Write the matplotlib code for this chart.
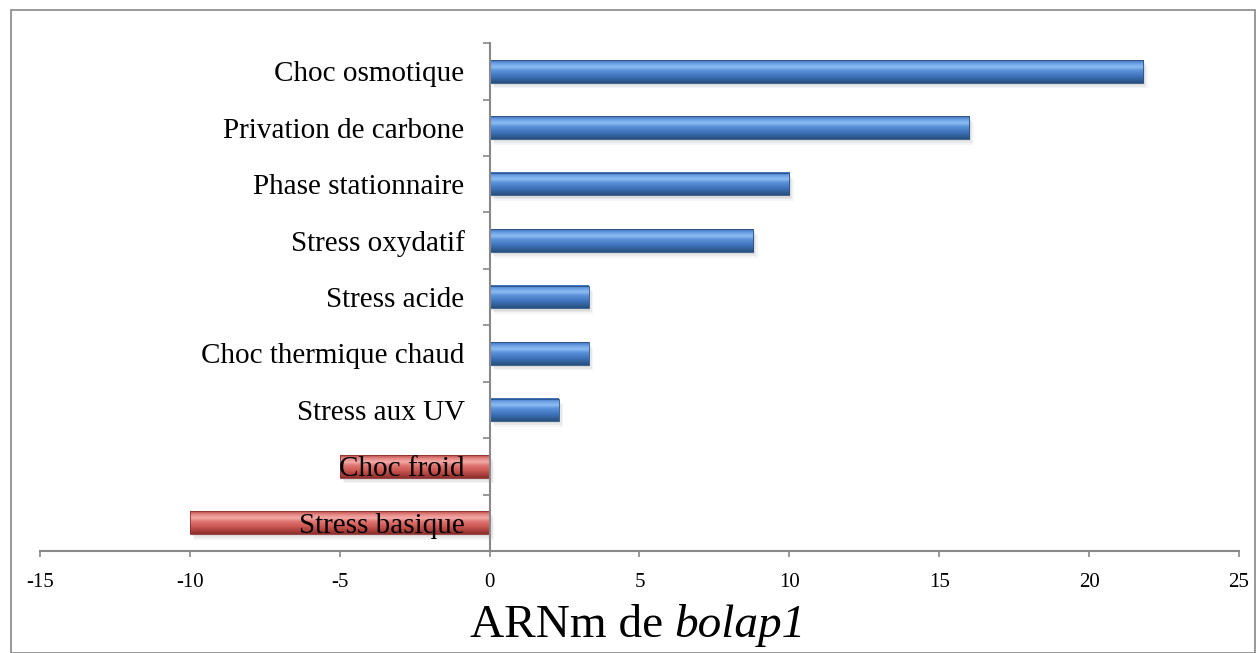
import matplotlib.pyplot as plt
import numpy as np
from matplotlib.colors import LinearSegmentedColormap
from matplotlib.patches import Rectangle

conditions = ["Choc osmotique", "Privation de carbone", "Phase stationnaire",
              "Stress oxydatif", "Stress acide", "Choc thermique chaud",
              "Stress aux UV", "Choc froid", "Stress basique"]
values = [21.8, 16.0, 10.0, 8.8, 3.3, 3.3, 2.3, -5.0, -10.0]

plt.rcParams['font.family'] = ['Liberation Serif', 'DejaVu Serif']

fig = plt.figure(figsize=(12.56, 6.53), dpi=100)
ax = fig.add_axes([0.0318, 0.1562, 0.9547, 0.7778])

blue = LinearSegmentedColormap.from_list(
    "b", [(0, "#3d6fb8"), (0.15, "#6da2e6"), (0.3, "#8cbcf2"), (0.45, "#5b92da"),
          (0.7, "#3f74bd"), (1, "#27507f")])
red = LinearSegmentedColormap.from_list(
    "r", [(0, "#b84a46"), (0.15, "#e68a87"), (0.3, "#f2aaa7"), (0.45, "#e07572"),
          (0.7, "#c9534f"), (1, "#8a2e2b")])
grad = np.linspace(0, 1, 64).reshape(-1, 1)
h = 0.4
for i, v in enumerate(values):
    cmap = blue if v > 0 else red
    x0, x1 = min(0, v), max(0, v)
    # soft shadow under the bar
    for k, a in enumerate([0.06, 0.05, 0.04]):
        ax.add_patch(Rectangle((x0 + 0.05 + 0.05 * k, i - h / 2 + 0.04 + 0.03 * k), x1 - x0, h,
                               facecolor="#000000", alpha=a, edgecolor="none", zorder=0.5))
    ax.imshow(grad, cmap=cmap, aspect="auto", extent=(x0, x1, i + h / 2, i - h / 2),
              zorder=1, interpolation="bilinear")
    ax.add_patch(Rectangle((x0, i - h / 2), x1 - x0, h, facecolor="none",
                           edgecolor=cmap(0.98), linewidth=0.6, zorder=1.2))

ax.set_xlim(-15, 25)
ax.set_ylim(8.5, -0.5)
ax.set_xticks(range(-15, 26, 5))
ax.set_xticklabels([str(t) for t in range(-15, 26, 5)])
ax.tick_params(axis="x", labelsize=15, length=4, color="#888888", width=1.2, pad=12)

ax.set_yticks(np.arange(-0.5, 9, 1))
ax.set_yticklabels([])
ax.set_yticks(range(len(conditions)), minor=True)
ax.set_yticklabels(conditions, minor=True)
ax.tick_params(axis="y", which="minor", length=0, pad=18, labelsize=21)
ax.tick_params(axis="y", which="major", length=5, color="#888888", width=1.2)

ax.spines["left"].set_position(("data", 0))
for s in ["left", "bottom"]:
    ax.spines[s].set_color("#888888")
    ax.spines[s].set_linewidth(1.5)
ax.spines["top"].set_visible(False)
ax.spines["right"].set_visible(False)

# axis title: roman part followed by italic gene name
t1 = fig.text(0.374, 0.025, "ARNm de ", fontsize=34, ha="left", va="baseline")
ax.annotate("bolap1", xy=(1, 0), xycoords=t1, fontsize=34, style="italic",
            ha="left", va="bottom", annotation_clip=False)

fig.patches.append(Rectangle((0.009, 0.0), 0.99, 0.985, transform=fig.transFigure,
                             fill=False, edgecolor="#888888", linewidth=1.2))

fig.savefig("out.png", dpi=100)
